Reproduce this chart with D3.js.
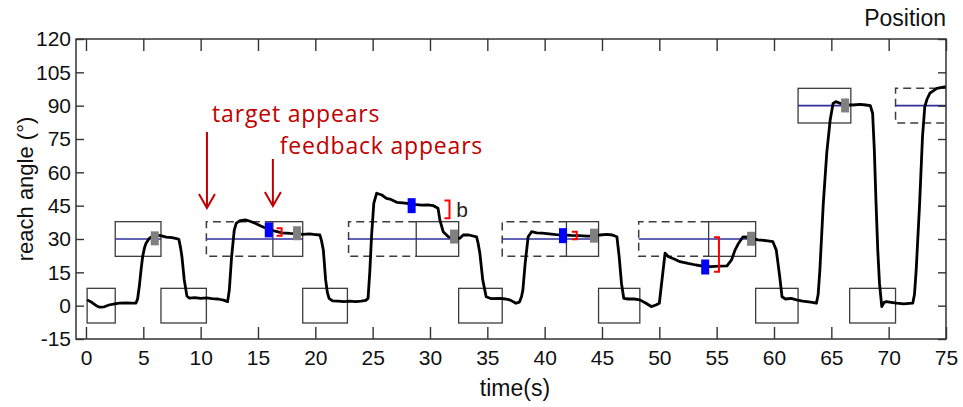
<!DOCTYPE html>
<html>
<head>
<meta charset="utf-8">
<script src="https://cdn.jsdelivr.net/npm/d3@7"></script>
<style>
  html, body { margin: 0; padding: 0; background: #fff; }
  svg { display: block; }
</style>
</head>
<body>
<svg id="chart" width="963" height="407"></svg>
<script>
// ---------------- DATA ----------------
const xTicks = [0, 5, 10, 15, 20, 25, 30, 35, 40, 45, 50, 55, 60, 65, 70, 75];
const yTicks = [-15, 0, 15, 30, 45, 60, 75, 90, 105, 120];

// hand trajectory: [time (s), reach angle (deg)]
const trajectory = [
  [0.1,2.6],[0.5,1.5],[0.9,0.0],[1.2,-0.7],[1.6,-0.5],[2.0,0.3],[2.5,0.8],[2.9,1.1],[3.5,1.2],[4.0,1.1],
  [4.36,1.2],[4.5,3],[4.65,8.6],[4.8,16],[4.94,22],[5.1,26],[5.23,28],[5.52,30.3],[5.96,31.8],[6.5,31.5],
  [7.0,30.8],[7.5,30.6],[7.9,30.2],[8.1,29.9],[8.25,26],[8.37,22],[8.57,11.6],[8.8,4.4],[9.0,3.4],[9.5,3.6],
  [10,3.3],[10.5,3.5],[11,3.2],[11.5,3.0],[12.0,2.5],[12.35,1.8],[12.5,7],[12.7,22],[12.93,34],[13.1,37],
  [13.37,38.1],[13.9,38.6],[14.3,38.0],[14.8,37],[15.2,36],[15.5,35.3],[15.9,34.5],[16.5,33.5],[17.1,32.8],
  [17.8,32.5],[18.4,32.4],[18.9,32.1],[19.5,32.3],[20.0,32.0],[20.4,31.8],[20.55,29],[20.7,25],[20.9,11.6],
  [21.05,6],[21.2,3.3],[21.5,2.2],[22,2.0],[22.5,1.8],[23,2.0],[23.5,1.8],[24.0,2.0],[24.4,2.4],[24.6,3.3],
  [24.76,16],[24.9,31],[25.1,46],[25.35,50.6],[25.8,49.8],[26.2,48.3],[26.6,47.8],[27.1,46.5],[27.6,46.3],
  [28.0,46.0],[28.4,45.5],[28.8,45.5],[29.3,45.2],[29.8,45.4],[30.3,45.0],[30.7,43.8],[30.86,38.6],[31.15,33.3],
  [31.6,31.0],[32.1,30.5],[32.6,30.3],[32.9,31.8],[33.4,31.8],[34.06,31.0],[34.2,28],[34.35,23.6],[34.6,11.6],
  [34.9,4],[35.3,3.2],[36.1,3.3],[36.6,3.0],[37.0,2.5],[37.5,1.1],[37.8,1.6],[37.98,4],[38.1,7],[38.3,19],
  [38.56,31],[38.86,33.3],[39.3,32.8],[39.8,32.6],[40.4,32.3],[41.0,32.0],[41.6,31.8],[42.3,31.6],[43.0,31.5],
  [43.7,31.3],[44.3,31.3],[44.8,31.8],[45.4,32.1],[45.9,31.8],[46.3,31.0],[46.5,22],[46.7,10],[46.9,3.3],
  [47.3,3.0],[47.8,3.0],[48.3,2.6],[48.8,1.2],[49.3,-0.4],[49.7,0.3],[50.0,1.1],[50.3,14.6],[50.5,23.6],
  [50.8,22],[51.3,21],[51.8,19.8],[52.5,19.0],[53.2,18.3],[53.8,17.8],[54.5,17.6],[55.2,17.8],[55.9,17.9],
  [56.3,20.6],[56.6,25],[56.9,28],[57.3,31],[57.8,30.8],[58.2,30.2],[58.6,29.6],[59.3,29.3],[59.9,28.8],
  [60.2,25],[60.35,19],[60.5,13],[60.7,4],[61.0,3.0],[61.5,3.3],[61.96,2.6],[62.5,2.0],[63.2,1.6],[63.7,1.1],
  [63.85,5],[64.0,16],[64.3,46],[64.6,68.6],[64.9,83.6],[65.15,91],[65.4,91.8],[65.8,91],[66.2,90.5],
  [66.9,90.3],[67.5,90.6],[68.0,90.3],[68.4,90.0],[68.6,86.6],[68.75,70],[68.9,46],[69.05,25],[69.2,10],
  [69.4,-0.4],[69.6,1.5],[69.8,1.8],[70.2,1.5],[70.7,1.1],[71.3,0.8],[71.8,1.0],[72.1,1.1],[72.25,5],
  [72.4,16],[72.7,46],[72.95,76],[73.15,89.6],[73.35,93],[73.6,95.6],[74.2,97.8],[75,98.6]
];

// start (home) boxes at 0 deg: [tStart, tEnd]
const homeBoxes = [[0.1,2.55],[6.54,10.5],[18.9,22.8],[32.5,36.3],[44.7,48.3],[58.4,62.1],[66.6,70.6]];
const homeAngle = 0;
const boxHalf = 7.8;

// target trials: [dashedStart, solidStart, end, targetAngle]
const targetTrials = [
  [2.55, 2.55, 6.54, 30],
  [10.5, 16.3, 18.9, 30],
  [22.9, 28.8, 32.5, 30],
  [36.3, 41.9, 44.7, 30],
  [48.2, 54.3, 58.4, 30],
  [62.1, 62.1, 66.7, 90],
  [70.6, 76.5, 79, 90]
];

// feedback markers (blue): [t, angle]
const feedbackMarks = [[15.94,34.1],[28.4,45.0],[41.6,31.5],[54.0,17.4]];
// end-point markers (gray): [t, angle]
const endMarks = [[6.0,30.3],[18.4,32.6],[32.1,31.1],[44.3,31.5],[58.0,30.1],[66.2,90.1]];
// error brackets (red): [t, angleTop, angleBottom]
const brackets = [[17.06,34.8,31.5],[31.7,47.3,39.3],[42.8,33.3,29.9],[55.2,30.8,15.3]];

// annotations
const arrows = [[10.55,78.1,44],[16.3,66,44.9]]; // [t, fromAngle, toAngle]
const annotations = [
  {text: "target appears", t: 11.0, v: 82.7},
  {text: "feedback appears", t: 16.9, v: 68.3}
];
const bLabel = {text: "b", t: 32.3, v: 40};

// ---------------- CHART ----------------
const svg = d3.select("#chart");
const L = 76, R = 946, T = 39, B = 339;
const x = d3.scaleLinear().domain([-0.87, 75]).range([L, R]);
const y = d3.scaleLinear().domain([-15, 120]).range([B, T]);

svg.append("defs").append("clipPath").attr("id", "plotclip")
  .append("rect").attr("x", L).attr("y", T).attr("width", R - L).attr("height", B - T);

const plot = svg.append("g").attr("clip-path", "url(#plotclip)");
const boxColor = "#3c3c3c";
const dash = "8,5";

// home boxes
plot.selectAll("rect.home").data(homeBoxes).join("rect")
  .attr("class", "home")
  .attr("x", d => x(d[0])).attr("width", d => x(d[1]) - x(d[0]))
  .attr("y", y(homeAngle + boxHalf)).attr("height", y(homeAngle - boxHalf) - y(homeAngle + boxHalf))
  .attr("fill", "none").attr("stroke", boxColor).attr("stroke-width", 1.3);

// target trials
targetTrials.forEach(d => {
  const [ds, ss, e, a] = d;
  const yt = y(a + boxHalf), yb = y(a - boxHalf);
  if (ss > ds) {
    plot.append("path")
      .attr("d", `M${x(ss)},${yt}H${x(ds)}V${yb}H${x(ss)}`)
      .attr("fill", "none").attr("stroke", boxColor).attr("stroke-width", 1.5)
      .attr("stroke-dasharray", dash);
  }
  plot.append("rect")
    .attr("x", x(ss)).attr("width", x(e) - x(ss))
    .attr("y", yt).attr("height", yb - yt)
    .attr("fill", "none").attr("stroke", boxColor).attr("stroke-width", 1.3);
  plot.append("line")
    .attr("x1", x(ds)).attr("x2", x(e)).attr("y1", y(a)).attr("y2", y(a))
    .attr("stroke", "#2f2f9c").attr("stroke-width", 1.6);
});

// trajectory
const line = d3.line().x(d => x(d[0])).y(d => y(d[1])).curve(d3.curveLinear);
plot.append("path").datum(trajectory)
  .attr("d", line).attr("fill", "none").attr("stroke", "#000")
  .attr("stroke-width", 2.8).attr("stroke-linejoin", "round");

// markers
plot.selectAll("rect.fb").data(feedbackMarks).join("rect")
  .attr("class", "fb")
  .attr("x", d => x(d[0]) - 4).attr("y", d => y(d[1]) - 7.5)
  .attr("width", 8).attr("height", 15).attr("fill", "#0000ff");
plot.selectAll("rect.ep").data(endMarks).join("rect")
  .attr("class", "ep")
  .attr("x", d => x(d[0]) - 4).attr("y", d => y(d[1]) - 7)
  .attr("width", 8).attr("height", 14).attr("fill", "#808080");

// brackets
plot.selectAll("path.br").data(brackets).join("path")
  .attr("class", "br")
  .attr("d", d => `M${x(d[0]) - 5},${y(d[1])}H${x(d[0])}V${y(d[2])}H${x(d[0]) - 5}`)
  .attr("fill", "none").attr("stroke", "#ff0000").attr("stroke-width", 2);

svg.append("text").text(bLabel.text)
  .attr("x", x(bLabel.t)).attr("y", y(bLabel.v))
  .attr("font-family", "Liberation Sans, Arial, sans-serif").attr("font-size", 21).attr("fill", "#222");

// arrows
const red = "#c00000";
arrows.forEach(a => {
  const ax = x(a[0]), y1 = y(a[1]), y2 = y(a[2]);
  svg.append("path")
    .attr("d", `M${ax},${y1}V${y2}M${ax - 8},${y2 - 14}L${ax},${y2}L${ax + 8},${y2 - 14}`)
    .attr("fill", "none").attr("stroke", red).attr("stroke-width", 2);
});
svg.selectAll("text.ann").data(annotations).join("text")
  .attr("class", "ann")
  .attr("x", d => x(d.t)).attr("y", d => y(d.v))
  .attr("font-family", "Open Sans, sans-serif").attr("font-size", 23)
  .attr("letter-spacing", 0.8)
  .attr("fill", red).text(d => d.text);

// axes
const fontAx = "Liberation Sans, Arial, sans-serif";
const fmt = d => String(d);
const gB = svg.append("g").attr("transform", `translate(0,${B})`)
  .call(d3.axisBottom(x).tickValues(xTicks).tickFormat(fmt).tickSizeInner(-12).tickSizeOuter(0).tickPadding(11));
const gT = svg.append("g").attr("transform", `translate(0,${T})`)
  .call(d3.axisTop(x).tickValues(xTicks).tickSizeInner(-12).tickSizeOuter(0).tickFormat(""));
const gL = svg.append("g").attr("transform", `translate(${L},0)`)
  .call(d3.axisLeft(y).tickValues(yTicks).tickFormat(fmt).tickSizeInner(-8).tickSizeOuter(0).tickPadding(5));
const gR = svg.append("g").attr("transform", `translate(${R},0)`)
  .call(d3.axisRight(y).tickValues(yTicks).tickSizeInner(-8).tickSizeOuter(0).tickFormat(""));
[gB, gT, gL, gR].forEach(g => {
  g.select(".domain").remove();
  g.selectAll(".tick line").attr("stroke", "#333").attr("stroke-width", 1.4);
  g.selectAll("text").attr("font-family", fontAx).attr("font-size", 21).attr("fill", "#111");
});

// frame
svg.append("rect").attr("x", L).attr("y", T).attr("width", R - L).attr("height", B - T)
  .attr("fill", "none").attr("stroke", "#333").attr("stroke-width", 1.5);

// axis labels
svg.append("text").text("time(s)")
  .attr("x", (L + R) / 2 + 4).attr("y", 396).attr("text-anchor", "middle")
  .attr("font-family", fontAx).attr("font-size", 23).attr("fill", "#111");
svg.append("text").text("reach angle (°)")
  .attr("transform", `translate(33,${(T + B) / 2}) rotate(-90)`).attr("text-anchor", "middle")
  .attr("font-family", fontAx).attr("font-size", 22).attr("fill", "#111");
svg.append("text").text("Position")
  .attr("x", R).attr("y", 26).attr("text-anchor", "end")
  .attr("font-family", fontAx).attr("font-size", 23).attr("fill", "#111");
</script>
</body>
</html>
